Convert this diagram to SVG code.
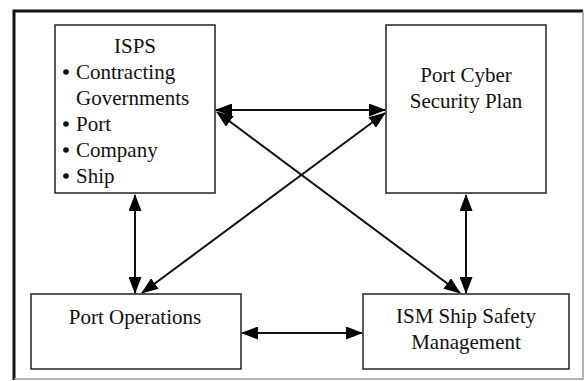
<svg xmlns="http://www.w3.org/2000/svg" width="586" height="381" viewBox="0 0 586 381">
<defs>
<marker id="ah" markerUnits="userSpaceOnUse" markerWidth="17" markerHeight="13" refX="16" refY="6.5" orient="auto-start-reverse" viewBox="0 0 17 13">
<path d="M0,0 L17,6.5 L0,13 z" fill="#000"/>
</marker>
<style>
.box{fill:#fff;stroke:#222;stroke-width:1.5}
.t{font-family:'Liberation Serif','Times New Roman','DejaVu Serif',serif;font-size:21px;fill:#111}
.c{text-anchor:middle}
.ln{stroke:#111;stroke-width:2;fill:none;marker-start:url(#ah);marker-end:url(#ah)}
</style>
</defs>
<rect width="586" height="381" fill="#fff"/>
<g id="frame">
<path d="M14,380 V11 H583" fill="none" stroke="#111" stroke-width="3"/>
<path d="M583,11 V379 H14" fill="none" stroke="#999" stroke-width="1.5"/>
</g>
<g id="connectors">
<line class="ln" x1="216" y1="110" x2="385" y2="110"/>
<line class="ln" x1="217" y1="112" x2="460" y2="293"/>
<line class="ln" x1="142" y1="293" x2="385" y2="113"/>
<line class="ln" x1="135" y1="195" x2="135" y2="293"/>
<line class="ln" x1="466" y1="195" x2="466" y2="293"/>
<line class="ln" x1="242" y1="333" x2="362" y2="333"/>
</g>
<g id="isps">
<rect class="box" x="55" y="25" width="160" height="168"/>
<text class="t c" x="135" y="53" font-family="Liberation Serif, serif">ISPS</text>
<g fill="#111">
<circle cx="66" cy="72" r="2.8"/>
<circle cx="66" cy="124" r="2.8"/>
<circle cx="66" cy="150" r="2.8"/>
<circle cx="66" cy="176" r="2.8"/>
</g>
<text class="t" x="76" y="79">Contracting</text>
<text class="t" x="76" y="105">Governments</text>
<text class="t" x="76" y="131">Port</text>
<text class="t" x="76" y="157">Company</text>
<text class="t" x="76" y="183">Ship</text>
</g>
<g id="cyber">
<rect class="box" x="386" y="25" width="160" height="168"/>
<text class="t c" x="466" y="82">Port Cyber</text>
<text class="t c" x="466" y="108">Security Plan</text>
</g>
<g id="ops">
<rect class="box" x="31" y="294" width="210" height="75"/>
<text class="t c" x="135" y="324">Port Operations</text>
</g>
<g id="ism">
<rect class="box" x="363" y="294" width="206" height="75"/>
<text class="t c" x="466" y="323">ISM Ship Safety</text>
<text class="t c" x="466" y="349">Management</text>
</g>
</svg>
